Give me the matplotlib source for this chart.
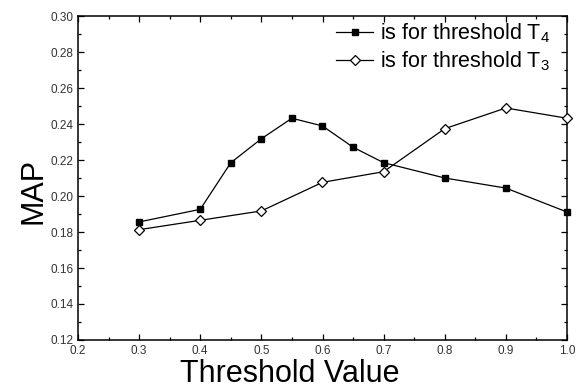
import numpy as np
import matplotlib.pyplot as plt

# values
x_t4 = [0.3, 0.4, 0.45, 0.5, 0.55, 0.6, 0.65, 0.7, 0.8, 0.9, 1.0]
map_t4 = [0.1856, 0.1926, 0.2185, 0.2318, 0.2432, 0.2389, 0.2271, 0.2185, 0.2100, 0.2044, 0.1911]
x_t3 = [0.3, 0.4, 0.5, 0.6, 0.7, 0.8, 0.9, 1.0]
map_t3 = [0.1813, 0.1865, 0.1917, 0.2076, 0.2135, 0.2374, 0.2489, 0.2432]

plt.rcParams["font.family"] = ["Liberation Sans", "DejaVu Sans"]
plt.rcParams["mathtext.fontset"] = "custom"
plt.rcParams["mathtext.rm"] = "Liberation Sans"
plt.rcParams["mathtext.it"] = "Liberation Sans"

fig = plt.figure(figsize=(5.82, 3.85), dpi=100)
ax = fig.add_axes([78/582, 1-340/385, (567-78)/582, (340-16)/385])

ax.plot(x_t4, map_t4, color="black", lw=0.9, marker="s", ms=5, mfc="black", mec="black",
        label="is for threshold T$_4$", clip_on=False, zorder=3)
ax.plot(x_t3, map_t3, color="black", lw=0.9, marker="D", ms=5, mfc="white", mec="black", mew=0.9,
        label="is for threshold T$_3$", clip_on=False, zorder=3)

ax.set_xlim(0.2, 1.0)
ax.set_ylim(0.12, 0.30)
ax.set_xticks(np.arange(0.2, 1.01, 0.1))
ax.set_xticklabels(["0.2", "0.3", "0.4", "0.5", "0.6", "0.7", "0.8", "0.9", "1.0"])
ax.set_xticks(np.arange(0.25, 1.0, 0.1), minor=True)
ax.set_yticks(np.arange(0.12, 0.301, 0.02))
ax.set_yticklabels(["%.2f" % v for v in np.arange(0.12, 0.301, 0.02)])
ax.set_yticks(np.arange(0.13, 0.30, 0.02), minor=True)
ax.tick_params(which="both", direction="in", top=True, right=True, labelsize=8.5, labelcolor="#333333")
ax.tick_params(which="major", length=4, width=0.9)
ax.tick_params(which="minor", length=2.5, width=0.9)
for s in ax.spines.values():
    s.set_linewidth(1.1)

ax.set_xlabel("Threshold Value", fontsize=22)
ax.xaxis.set_label_coords((290-78)/489, -0.058)
ax.set_ylabel("MAP", fontsize=22)
ax.yaxis.set_label_coords(-0.061, 0.46)

ax.legend(loc="upper right", frameon=False, fontsize=15.5, handlelength=1.75, handletextpad=0.3,
          borderaxespad=0.0, labelspacing=0.2, bbox_to_anchor=(0.983, 1.01))

fig.savefig("out.png", dpi=100)
